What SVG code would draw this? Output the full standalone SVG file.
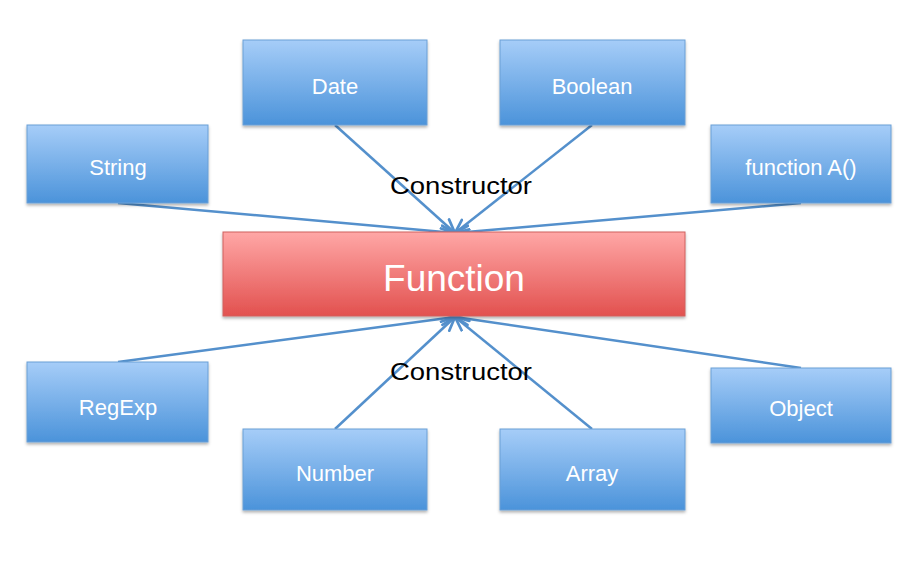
<svg xmlns="http://www.w3.org/2000/svg" width="918" height="565" viewBox="0 0 918 565">
<defs>
<linearGradient id="gb" x1="0" y1="0" x2="0" y2="1">
<stop offset="0" stop-color="#a6cdf8"/>
<stop offset="1" stop-color="#4b93da"/>
</linearGradient>
<linearGradient id="gr" x1="0" y1="0" x2="0" y2="1">
<stop offset="0" stop-color="#ffa7a6"/>
<stop offset="1" stop-color="#e2514f"/>
</linearGradient>
<filter id="sh" x="-10%" y="-10%" width="120%" height="130%">
<feDropShadow dx="0" dy="2" stdDeviation="1.5" flood-color="#000" flood-opacity="0.3"/>
</filter>
<marker id="ah" viewBox="0 0 12 12" refX="11" refY="6" markerWidth="6.5" markerHeight="6.5" orient="auto" markerUnits="strokeWidth">
<polyline points="1,1.5 11,6 1,10.5" fill="none" stroke="#5490cc" stroke-width="2" stroke-linecap="round" stroke-linejoin="round"/>
</marker>
</defs>
<style>
.b{fill:url(#gb);stroke:#6b9fd6;stroke-width:1;filter:url(#sh)}
.r{fill:url(#gr);stroke:#d0605e;stroke-width:1;filter:url(#sh)}
.t{font-family:"Liberation Sans",Arial,sans-serif;font-size:22px;fill:#fff;text-anchor:middle}
.big{font-size:37px}
.lbl{font-family:"Liberation Sans",Arial,sans-serif;font-size:24px;fill:#000;text-anchor:middle}
.c{stroke:#5490cc;stroke-width:2.5;fill:none;marker-end:url(#ah)}
</style>
<g id="connectors">
<line class="c" x1="118" y1="203" x2="455" y2="233"/>
<line class="c" x1="335" y1="125" x2="455" y2="233"/>
<line class="c" x1="592" y1="125" x2="455" y2="233"/>
<line class="c" x1="801" y1="203" x2="455" y2="233"/>
<line class="c" x1="118" y1="362" x2="455" y2="317"/>
<line class="c" x1="335" y1="429" x2="455" y2="317"/>
<line class="c" x1="592" y1="429" x2="455" y2="317"/>
<line class="c" x1="801" y1="368" x2="455" y2="317"/>
</g>
<g id="label-top"><text class="lbl" x="461" y="194" textLength="142" lengthAdjust="spacingAndGlyphs">Constructor</text></g>
<g id="label-bottom"><text class="lbl" x="461" y="380" textLength="142" lengthAdjust="spacingAndGlyphs">Constructor</text></g>
<g id="function"><rect class="r" x="223" y="232" width="462" height="84"/><text class="t big" x="454" y="291">Function</text></g>
<g id="date"><rect class="b" x="243" y="40" width="184" height="85"/><text class="t" x="335" y="94">Date</text></g>
<g id="boolean"><rect class="b" x="500" y="40" width="185" height="85"/><text class="t" x="592" y="94">Boolean</text></g>
<g id="string"><rect class="b" x="27" y="125" width="181" height="78"/><text class="t" x="118" y="175">String</text></g>
<g id="functionA"><rect class="b" x="711" y="125" width="180" height="78"/><text class="t" x="801" y="175">function A()</text></g>
<g id="regexp"><rect class="b" x="27" y="362" width="181" height="80"/><text class="t" x="118" y="415">RegExp</text></g>
<g id="object"><rect class="b" x="711" y="368" width="180" height="75"/><text class="t" x="801" y="416">Object</text></g>
<g id="number"><rect class="b" x="243" y="429" width="184" height="81"/><text class="t" x="335" y="481">Number</text></g>
<g id="array"><rect class="b" x="500" y="429" width="185" height="81"/><text class="t" x="592" y="481">Array</text></g>
</svg>
